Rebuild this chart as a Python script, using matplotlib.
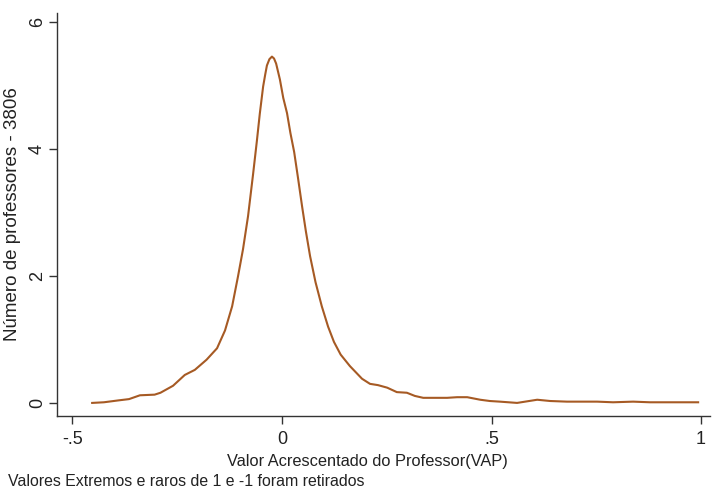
import matplotlib
matplotlib.use("Agg")
import matplotlib.pyplot as plt

plt.rcParams['font.family'] = ['Liberation Sans', 'DejaVu Sans']

# Kernel density values
vap = [-0.453, -0.425, -0.390, -0.365, -0.339, -0.304, -0.290, -0.260, -0.232,
       -0.208, -0.180, -0.155, -0.136, -0.119, -0.105, -0.093, -0.081, -0.069,
       -0.060, -0.053, -0.045, -0.040, -0.036, -0.030, -0.024, -0.019, -0.014,
       -0.005, 0.003, 0.012, 0.020, 0.029, 0.038, 0.048, 0.057, 0.067, 0.080,
       0.095, 0.110, 0.124, 0.140, 0.162, 0.191, 0.210, 0.229, 0.251, 0.274,
       0.298, 0.317, 0.337, 0.394, 0.418, 0.442, 0.473, 0.496, 0.520, 0.561,
       0.609, 0.640, 0.680, 0.718, 0.752, 0.790, 0.838, 0.878, 0.919, 0.993]
densidade = [0.00, 0.01, 0.04, 0.06, 0.12, 0.13, 0.16, 0.27, 0.44,
             0.52, 0.68, 0.86, 1.14, 1.52, 1.99, 2.42, 2.94, 3.60,
             4.12, 4.55, 4.98, 5.17, 5.31, 5.41, 5.45, 5.42, 5.34,
             5.09, 4.80, 4.56, 4.25, 3.95, 3.55, 3.09, 2.70, 2.31, 1.90,
             1.52, 1.20, 0.96, 0.76, 0.58, 0.38, 0.30, 0.28, 0.24, 0.17,
             0.16, 0.11, 0.08, 0.08, 0.09, 0.09, 0.05, 0.03, 0.02, 0.00,
             0.05, 0.03, 0.02, 0.02, 0.02, 0.01, 0.02, 0.01, 0.01, 0.01]

xticks = [-0.5, 0, 0.5, 1]
xticklabels = ['-.5', '0', '.5', '1']
yticks = [0, 2, 4, 6]
yticklabels = ['0', '2', '4', '6']

fig = plt.figure(figsize=(7.12, 4.91), dpi=100)
ax = fig.add_axes([0.080, 0.153, 0.917, 0.821])
ax.plot(vap, densidade, color='#a65a24', lw=1.5, solid_joinstyle='round')

ax.set_xlim(-0.537, 1.021)
ax.set_ylim(-0.204, 6.14)
ax.set_xticks(xticks)
ax.set_xticklabels(xticklabels)
ax.set_yticks(yticks)
ax.set_yticklabels(yticklabels, rotation=90, va='center')

for s in ['top', 'right']:
    ax.spines[s].set_visible(False)
for s in ['left', 'bottom']:
    ax.spines[s].set_color('#333333')
    ax.spines[s].set_linewidth(1.0)

ax.tick_params(axis='both', direction='out', length=6, width=1.0,
               color='#333333', labelsize=13, labelcolor='#222222')
ax.tick_params(axis='x', pad=5)
ax.tick_params(axis='y', pad=2)

ax.set_xlabel('Valor Acrescentado do Professor(VAP)', fontsize=11.8, color='#222222')
ax.xaxis.set_label_coords(0.475, -0.095)
ax.set_ylabel('Número de professores - 3806', fontsize=13.5, color='#222222', labelpad=6)

fig.text(0.011, 0.020, 'Valores Extremos e raros de 1 e -1 foram retirados',
         fontsize=11.4, color='#222222', ha='left', va='center')

fig.savefig('out.png', dpi=100)
